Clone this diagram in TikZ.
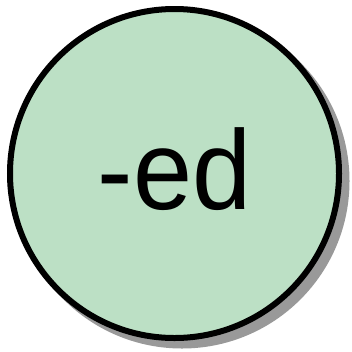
\documentclass[tikz,border=0pt]{standalone}
\usepackage{fontspec}
\setmainfont{Liberation Sans}
\definecolor{cfill}{HTML}{BCE0C5}
\definecolor{cshadow}{HTML}{999999}
\begin{document}
\begin{tikzpicture}[x=1pt,y=-1pt,
  bubble/.style={circle,draw=black,line width=6pt,fill=cfill,minimum size=329pt,inner sep=0pt,font=\fontsize{113}{113}\selectfont}]
\useasboundingbox (0,0) rectangle (352,351);
\fill[cshadow] (182,181) circle (167.5);
\node[bubble] (ed) at (174.5,173.5) {\raisebox{5pt}[\height][0pt]{\scalebox{0.94}[1]{-ed}}};
\end{tikzpicture}
\end{document}
